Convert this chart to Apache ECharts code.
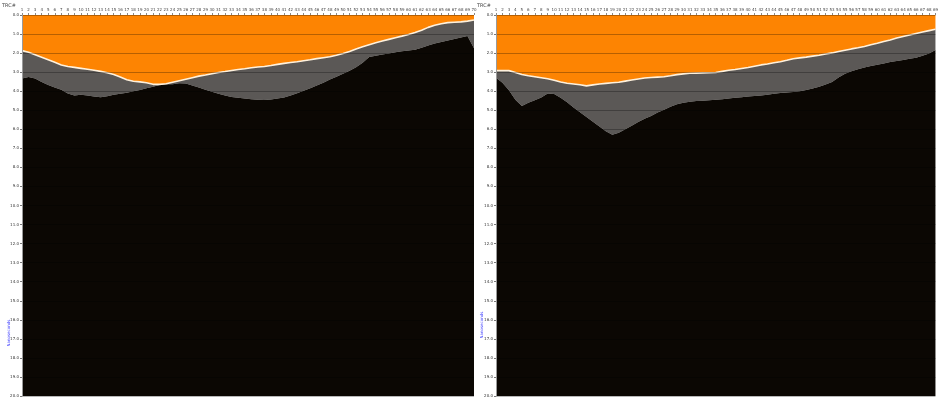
<!DOCTYPE html>
<html>
<head>
<meta charset="utf-8">
<script src="https://cdn.jsdelivr.net/npm/echarts@6/dist/echarts.min.js"></script>
<style>
  html, body { margin: 0; padding: 0; background: #ffffff; }
  #chart { width: 941px; height: 398px; }
</style>
</head>
<body>
<div id="chart"></div>
<script>
// Profile A: trace numbers, water-bottom reflector and bedrock reflector
const tracesA = Array.from({ length: 70 }, (_, i) => String(i + 1));
const surfaceA = [
  1.87, 1.96, 2.09, 2.22, 2.35, 2.48, 2.62, 2.70, 2.75, 2.80,
  2.85, 2.90, 2.96, 3.03, 3.12, 3.25, 3.40, 3.48, 3.51, 3.56,
  3.64, 3.64, 3.61, 3.53, 3.45, 3.37, 3.29, 3.21, 3.15, 3.08,
  3.02, 2.97, 2.91, 2.86, 2.82, 2.77, 2.73, 2.70, 2.65, 2.59,
  2.54, 2.49, 2.45, 2.40, 2.35, 2.29, 2.24, 2.19, 2.11, 2.02,
  1.92, 1.79, 1.67, 1.56, 1.46, 1.37, 1.28, 1.19, 1.11, 1.02,
  0.92, 0.80, 0.65, 0.54, 0.46, 0.40, 0.38, 0.36, 0.32, 0.26
];
const bedrockA = [
  3.33, 3.25, 3.33, 3.52, 3.68, 3.80, 3.93, 4.12, 4.22, 4.18,
  4.22, 4.28, 4.32, 4.26, 4.18, 4.14, 4.08, 4.00, 3.94, 3.85,
  3.76, 3.67, 3.63, 3.64, 3.58, 3.60, 3.70, 3.80, 3.92, 4.03,
  4.13, 4.22, 4.31, 4.35, 4.38, 4.42, 4.45, 4.46, 4.43, 4.38,
  4.33, 4.22, 4.11, 3.98, 3.85, 3.70, 3.55, 3.39, 3.24, 3.08,
  2.92, 2.74, 2.50, 2.20, 2.14, 2.08, 2.02, 1.95, 1.90, 1.87,
  1.82, 1.72, 1.60, 1.50, 1.42, 1.34, 1.26, 1.18, 1.10, 1.75
];

// Profile B
const tracesB = Array.from({ length: 69 }, (_, i) => String(i + 1));
const surfaceB = [
  2.92, 2.92, 2.92, 3.02, 3.12, 3.19, 3.24, 3.29, 3.35, 3.43,
  3.52, 3.58, 3.62, 3.66, 3.72, 3.67, 3.62, 3.59, 3.56, 3.53,
  3.47, 3.41, 3.36, 3.31, 3.28, 3.26, 3.24, 3.19, 3.13, 3.09,
  3.06, 3.05, 3.04, 3.03, 3.02, 2.96, 2.90, 2.86, 2.81, 2.76,
  2.69, 2.62, 2.57, 2.51, 2.45, 2.38, 2.30, 2.25, 2.21, 2.16,
  2.11, 2.05, 1.99, 1.92, 1.85, 1.78, 1.72, 1.65, 1.56, 1.48,
  1.39, 1.31, 1.21, 1.13, 1.05, 0.97, 0.89, 0.82, 0.75
];
const bedrockB = [
  3.30, 3.55, 3.95, 4.45, 4.78, 4.60, 4.47, 4.33, 4.12, 4.15,
  4.35, 4.58, 4.85, 5.10, 5.35, 5.60, 5.85, 6.10, 6.28, 6.18,
  6.00, 5.82, 5.62, 5.45, 5.30, 5.12, 4.98, 4.82, 4.68, 4.60,
  4.55, 4.52, 4.50, 4.48, 4.45, 4.42, 4.38, 4.35, 4.32, 4.28,
  4.25, 4.22, 4.18, 4.14, 4.10, 4.07, 4.04, 4.00, 3.94, 3.86,
  3.76, 3.65, 3.52, 3.28, 3.08, 2.95, 2.85, 2.76, 2.68, 2.61,
  2.54, 2.47, 2.41, 2.36, 2.30, 2.24, 2.14, 2.02, 1.84
];

const depthMin = 0;
const depthMax = 20;
const depthStep = 1;
const axisTitle = 'Nanoseconds';
const traceTitle = 'TRC#';

const ORANGE = '#fd8402';
const GRAY = '#5b5856';
const BLACK = '#0b0703';

function xAxisFor(idx, cats) {
  return {
    type: 'category', gridIndex: idx, position: 'top', data: cats, boundaryGap: false,
    axisLine: { show: false },
    axisTick: { show: true, length: 2, interval: 0, lineStyle: { color: '#888' } },
    axisLabel: { interval: 0, fontSize: 4, color: '#444', margin: 3, fontFamily: 'DejaVu Sans' },
    splitLine: { show: false }
  };
}
function yAxisFor(idx) {
  return {
    type: 'value', gridIndex: idx, inverse: true, min: depthMin, max: depthMax, interval: depthStep,
    z: 6,
    axisLine: { show: true, lineStyle: { color: '#9a9a9a', width: 1 } },
    axisTick: { show: true, length: 2, lineStyle: { color: '#777' } },
    axisLabel: { fontSize: 4, color: '#333', margin: 3, fontFamily: 'DejaVu Sans',
      formatter: v => v.toFixed(1) },
    splitLine: { show: true, lineStyle: { color: 'rgba(0,0,0,0.28)', width: 1 } }
  };
}
function layerSeries(idx, surface, bedrock, stackName) {
  const common = { type: 'line', xAxisIndex: idx, yAxisIndex: idx, stack: stackName,
    symbol: 'none', silent: true, animation: false };
  return [
    Object.assign({}, common, {
      name: 'water', z: 4, data: surface,
      lineStyle: { color: '#fff1dc', width: 1.6 },
      areaStyle: { color: ORANGE, opacity: 1, origin: 'start' }
    }),
    Object.assign({}, common, {
      name: 'sediment', z: 2, data: bedrock.map((b, i) => +(b - surface[i]).toFixed(3)),
      lineStyle: { width: 0 },
      areaStyle: { color: GRAY, opacity: 1 }
    }),
    Object.assign({}, common, {
      name: 'bedrock', z: 2, data: bedrock.map(b => +(depthMax - b).toFixed(3)),
      lineStyle: { width: 0 },
      areaStyle: { color: BLACK, opacity: 1 }
    })
  ];
}

const chart = echarts.init(document.getElementById('chart'), null, { renderer: 'canvas' });
chart.setOption({
  animation: false,
  backgroundColor: '#ffffff',
  grid: [
    { left: 22, right: 467, top: 15, bottom: 2 },
    { left: 496, right: 1, top: 15, bottom: 2 }
  ],
  xAxis: [xAxisFor(0, tracesA), xAxisFor(1, tracesB)],
  yAxis: [yAxisFor(0), yAxisFor(1)],
  series: [
    ...layerSeries(0, surfaceA, bedrockA, 'A'),
    ...layerSeries(1, surfaceB, bedrockB, 'B')
  ],
  graphic: [
    { type: 'text', left: 2, top: 3, style: { text: traceTitle, fontSize: 5, fill: '#444', fontFamily: 'DejaVu Sans' } },
    { type: 'text', left: 477, top: 3, style: { text: traceTitle, fontSize: 5, fill: '#444', fontFamily: 'DejaVu Sans' } },
    { type: 'text', x: 9, y: 333, rotation: Math.PI / 2,
      style: { text: axisTitle, fontSize: 4, fill: '#3a3aff', align: 'center', verticalAlign: 'middle', fontFamily: 'DejaVu Sans' } },
    { type: 'text', x: 482, y: 325, rotation: Math.PI / 2,
      style: { text: axisTitle, fontSize: 4, fill: '#3a3aff', align: 'center', verticalAlign: 'middle', fontFamily: 'DejaVu Sans' } }
  ]
});
</script>
</body>
</html>
